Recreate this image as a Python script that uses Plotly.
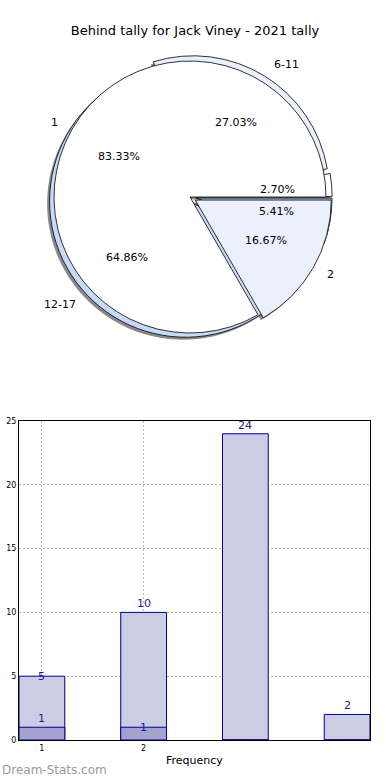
import numpy as np
import plotly.graph_objects as go

# ---------------- data ----------------
title_text = "Behind tally for Jack Viney - 2021 tally"

age_labels = ["0-5", "6-11", "12-17", "18-23"]
age_values = [1, 10, 24, 2]
age_colors = ["#ffffff", "#e9f0fd", "#c8dafa", "#a9c2ec"]

goal_labels = ["1", "2"]
goal_values = [5, 1]
goal_colors = ["#ffffff", "#eaf0fc"]

bar_values = [5, 10, 24, 2]
bar_small_values = [1, 1, 0, 0]
bar_tick_labels = ["1", "2"]

# ---------------- geometry helpers ----------------
W, H = 390, 780


def px(x):
    return x / W


def py(y):
    return 1 - y / H


pie_cx, pie_cy = 190, 197      # window px
pie_r = 136                    # px radius of wedges
age_pull = [0.045, 0.045, 0.045, 0.045]
goal_pull = [0.0, 0.045]
maxpull = 0.045
half = pie_r * (1 + maxpull)


def dom(cx, cy, h):
    return dict(x=[px(cx - h), px(cx + h)], y=[py(cy + h), py(cy - h)])


def start_rotation(values):
    # plotly (counterclockwise): first slice ends at `rotation`; make it start at 3 o'clock
    v = np.array(values, dtype=float)
    return 90 - 360 * v[0] / v.sum()


pie_dom = dom(pie_cx, pie_cy, half)
shadow_dom = dom(pie_cx - 2.5, pie_cy + 2.5, half)

fig = go.Figure()

common = dict(sort=False, direction="counterclockwise", textinfo="none",
              hoverinfo="skip", showlegend=False)

age_rot = start_rotation(age_values)
goal_rot = start_rotation(goal_values)

# shadows
fig.add_trace(go.Pie(values=age_values, labels=age_labels, pull=age_pull, domain=shadow_dom,
                     rotation=age_rot,
                     marker=dict(colors=["#8a8a8a"] * 4, line=dict(width=0)), **common))
fig.add_trace(go.Pie(values=goal_values, labels=goal_labels, pull=goal_pull, domain=shadow_dom,
                     rotation=goal_rot,
                     marker=dict(colors=["#8a8a8a"] * 2, line=dict(width=0)), **common))
# outer (age) pie
fig.add_trace(go.Pie(values=age_values, labels=age_labels, pull=age_pull, domain=pie_dom,
                     rotation=age_rot,
                     marker=dict(colors=age_colors, line=dict(color="#000000", width=0.8)), **common))
# goal pie on top
fig.add_trace(go.Pie(values=goal_values, labels=goal_labels, pull=goal_pull, domain=pie_dom,
                     rotation=goal_rot,
                     marker=dict(colors=goal_colors, line=dict(color="#000000", width=0.8)), **common))

# ---------------- pie texts (annotations on overlay axes) ----------------
annots = []
txt_font = dict(family="DejaVu Sans", size=11, color="#000000")


def pie_texts(values, labels, pulls):
    vals = np.array(values, dtype=float)
    frac = vals / vals.sum()
    start = np.concatenate([[0], np.cumsum(frac)[:-1]]) * 360
    mid = np.deg2rad(start + frac * 180)
    p = np.array(pulls)
    for f, m, pp, lab in zip(frac, mid, p, labels):
        c, s = np.cos(m), np.sin(m)
        annots.append(dict(x=(0.6 + pp) * c, y=(0.6 + pp) * s, xref="x2", yref="y2",
                           text=f"{f*100:.2f}%", showarrow=False, xanchor="center",
                           yanchor="middle", font=txt_font))
        annots.append(dict(x=(1.1 + pp) * c, y=(1.1 + pp) * s, xref="x2", yref="y2",
                           text=lab, showarrow=False, xanchor="left" if c >= 0 else "right",
                           yanchor="middle", font=txt_font))


pie_texts(age_values, age_labels, age_pull)
pie_texts(goal_values, goal_labels, goal_pull)

rng = half / pie_r

# ---------------- bar chart ----------------
bar_w = 0.45
xs = list(range(len(bar_values)))
fig.add_trace(go.Bar(x=xs, y=bar_values, width=bar_w, offset=0,
                     marker=dict(color="#ccccE4", line=dict(color="#000088", width=1)),
                     hoverinfo="skip", showlegend=False))
fig.add_trace(go.Bar(x=xs, y=bar_small_values, width=bar_w, offset=0,
                     marker=dict(color="#a3a3d0", line=dict(color="#000088", width=1)),
                     hoverinfo="skip", showlegend=False))

lab_color = "#1a1a99"
big_anchor = ["middle", "bottom", "bottom", "bottom"]
small_anchor = ["bottom", "middle", "bottom", "bottom"]
for i, v in enumerate(bar_values):
    if v > 0:
        annots.append(dict(x=i + bar_w / 2, y=v, xref="x", yref="y", text=str(v), showarrow=False,
                           yanchor=big_anchor[i], font=dict(family="DejaVu Sans", size=11, color=lab_color)))
for i, v in enumerate(bar_small_values):
    if v > 0:
        annots.append(dict(x=i + bar_w / 2, y=v, xref="x", yref="y", text=str(v), showarrow=False,
                           yanchor=small_anchor[i], font=dict(family="DejaVu Sans", size=11, color=lab_color)))

annots.append(dict(x=px((19 + 370) / 2), y=py(760), xref="paper", yref="paper", text="Frequency",
                   showarrow=False, xanchor="center", yanchor="middle",
                   font=dict(family="DejaVu Sans", size=11, color="#000000")))
annots.append(dict(x=px(0), y=py(770), xref="paper", yref="paper", text="Dream-Stats.com",
                   showarrow=False, xanchor="left", yanchor="middle",
                   font=dict(family="DejaVu Sans", size=12, color="#9a9a9a")))

grid_dash = "2px,2px"
fig.update_layout(
    width=W, height=H,
    margin=dict(l=0, r=0, t=0, b=0, autoexpand=False),
    paper_bgcolor="#ffffff", plot_bgcolor="#ffffff",
    font=dict(family="DejaVu Sans", color="#000000"),
    title=dict(text=title_text, x=px(195), xanchor="center", y=py(30), yanchor="middle",
               font=dict(family="DejaVu Sans", size=13, color="#000000")),
    barmode="overlay",
    xaxis=dict(domain=[px(19), px(370)], range=[0, len(bar_values) - 1 + bar_w],
               tickvals=[i + bar_w / 2 for i in range(len(bar_tick_labels))], ticktext=bar_tick_labels,
               showgrid=True, gridcolor="#b8b8b8", griddash=grid_dash, gridwidth=1,
               showline=True, linecolor="#000000", linewidth=1, mirror=True, automargin=False,
               ticks="", tickfont=dict(size=8), zeroline=False, fixedrange=True),
    yaxis=dict(domain=[py(740), py(421)], range=[0, 25], tickvals=[0, 5, 10, 15, 20, 25],
               showgrid=True, gridcolor="#b8b8b8", griddash=grid_dash, gridwidth=1,
               showline=True, linecolor="#000000", linewidth=1, mirror=True, automargin=False,
               ticks="", tickfont=dict(size=8), zeroline=False, fixedrange=True),
    xaxis2=dict(domain=pie_dom["x"], range=[-rng, rng], visible=False, fixedrange=True, automargin=False),
    yaxis2=dict(domain=pie_dom["y"], range=[-rng, rng], visible=False, fixedrange=True, automargin=False),
    annotations=annots,
)

fig.write_html("out.html", config={"displayModeBar": False, "staticPlot": True},
               post_script="document.body.style.margin='0';")
